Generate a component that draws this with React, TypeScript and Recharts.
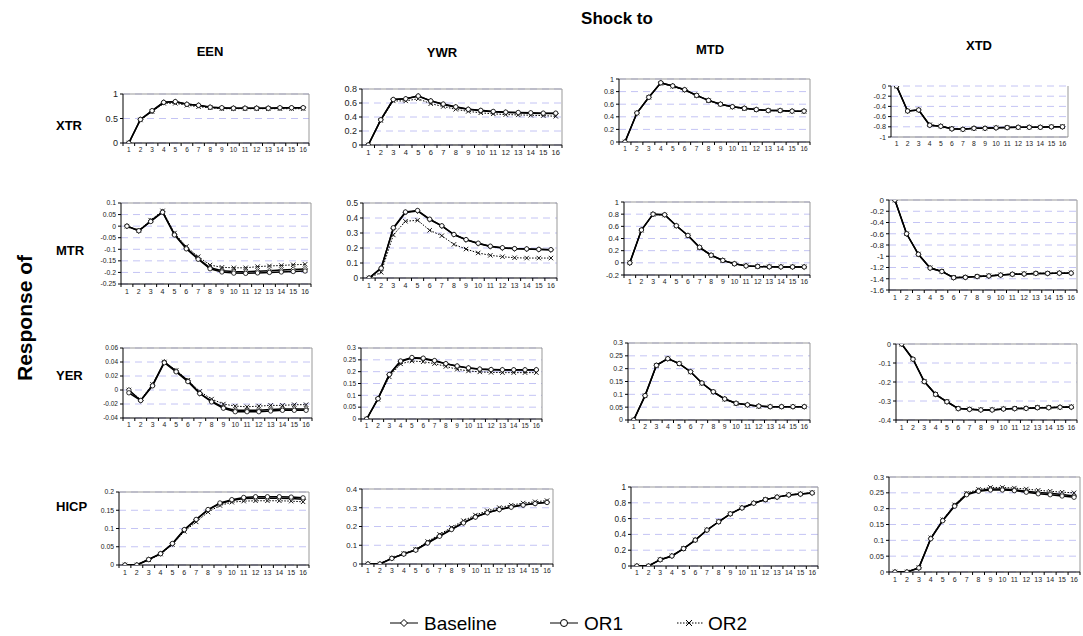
import React from 'react';
import { LineChart, Line, XAxis, YAxis, CartesianGrid, ReferenceLine } from 'recharts';

const FONT = '"Liberation Sans", Arial, Helvetica, sans-serif';

const periods = [1, 2, 3, 4, 5, 6, 7, 8, 9, 10, 11, 12, 13, 14, 15, 16];
const periodEdges = [0.5, 1.5, 2.5, 3.5, 4.5, 5.5, 6.5, 7.5, 8.5, 9.5, 10.5, 11.5, 12.5, 13.5, 14.5, 15.5, 16.5];

const rowLabels = ['XTR', 'MTR', 'YER', 'HICP'];
const colLabels = ['EEN', 'YWR', 'MTD', 'XTD'];
const seriesNames = ['Baseline', 'OR1', 'OR2'];

// ---- Response of XTR ----
const xtrEenBase = [0, 0.48, 0.65, 0.83, 0.84, 0.79, 0.77, 0.73, 0.715, 0.71, 0.71, 0.71, 0.71, 0.715, 0.72, 0.72];
const xtrEenOr1 = [0, 0.48, 0.66, 0.83, 0.845, 0.79, 0.77, 0.73, 0.72, 0.71, 0.71, 0.71, 0.71, 0.72, 0.72, 0.72];
const xtrEenOr2 = [0, 0.47, 0.64, 0.81, 0.81, 0.77, 0.74, 0.72, 0.7, 0.7, 0.7, 0.7, 0.7, 0.7, 0.7, 0.7];
const xtrEenTicks = [0, 0.5, 1];

const xtrYwrBase = [0, 0.36, 0.65, 0.66, 0.7, 0.63, 0.58, 0.54, 0.51, 0.49, 0.475, 0.465, 0.46, 0.455, 0.45, 0.45];
const xtrYwrOr1 = [0, 0.36, 0.65, 0.66, 0.7, 0.63, 0.585, 0.545, 0.51, 0.495, 0.48, 0.47, 0.465, 0.46, 0.455, 0.455];
const xtrYwrOr2 = [0, 0.35, 0.63, 0.63, 0.66, 0.59, 0.55, 0.51, 0.48, 0.46, 0.445, 0.435, 0.43, 0.425, 0.42, 0.41];
const xtrYwrTicks = [0, 0.2, 0.4, 0.6, 0.8];

const xtrMtdBase = [0, 0.46, 0.71, 0.94, 0.89, 0.83, 0.74, 0.66, 0.6, 0.56, 0.535, 0.515, 0.5, 0.5, 0.49, 0.49];
const xtrMtdOr1 = [0, 0.46, 0.71, 0.94, 0.89, 0.83, 0.74, 0.66, 0.6, 0.56, 0.535, 0.515, 0.5, 0.5, 0.49, 0.49];
const xtrMtdOr2 = [0, 0.46, 0.71, 0.93, 0.885, 0.825, 0.735, 0.655, 0.6, 0.555, 0.53, 0.51, 0.5, 0.495, 0.49, 0.485];
const xtrMtdTicks = [0, 0.2, 0.4, 0.6, 0.8, 1];

const xtrXtdBase = [0, -0.49, -0.47, -0.77, -0.79, -0.84, -0.85, -0.83, -0.83, -0.82, -0.815, -0.81, -0.81, -0.81, -0.8, -0.8];
const xtrXtdOr1 = [0, -0.49, -0.47, -0.77, -0.79, -0.84, -0.85, -0.83, -0.83, -0.82, -0.815, -0.81, -0.81, -0.81, -0.8, -0.8];
const xtrXtdOr2 = [0, -0.49, -0.47, -0.76, -0.785, -0.835, -0.845, -0.83, -0.825, -0.82, -0.81, -0.81, -0.805, -0.805, -0.8, -0.795];
const xtrXtdTicks = [-1, -0.8, -0.6, -0.4, -0.2, 0];

// ---- Response of MTR ----
const mtrEenBase = [0, -0.02, 0.022, 0.062, -0.035, -0.095, -0.14, -0.18, -0.193, -0.196, -0.197, -0.195, -0.193, -0.19, -0.187, -0.185];
const mtrEenOr1 = [0, -0.02, 0.02, 0.06, -0.038, -0.098, -0.143, -0.184, -0.198, -0.203, -0.204, -0.202, -0.2, -0.198, -0.196, -0.194];
const mtrEenOr2 = [0, -0.018, 0.026, 0.066, -0.03, -0.088, -0.132, -0.168, -0.178, -0.18, -0.18, -0.175, -0.172, -0.17, -0.167, -0.165];
const mtrEenTicks = [-0.25, -0.2, -0.15, -0.1, -0.05, 0, 0.05, 0.1];

const mtrYwrBase = [0, 0.067, 0.33, 0.437, 0.447, 0.39, 0.347, 0.29, 0.255, 0.23, 0.21, 0.2, 0.195, 0.193, 0.19, 0.188];
const mtrYwrOr1 = [0, 0.065, 0.335, 0.44, 0.45, 0.392, 0.348, 0.29, 0.256, 0.232, 0.212, 0.202, 0.196, 0.194, 0.191, 0.189];
const mtrYwrOr2 = [0, 0.038, 0.287, 0.378, 0.385, 0.318, 0.282, 0.224, 0.193, 0.167, 0.151, 0.142, 0.135, 0.133, 0.133, 0.133];
const mtrYwrTicks = [0, 0.1, 0.2, 0.3, 0.4, 0.5];

const mtrMtdBase = [0, 0.54, 0.8, 0.79, 0.61, 0.45, 0.255, 0.125, 0.04, -0.015, -0.05, -0.06, -0.065, -0.067, -0.067, -0.067];
const mtrMtdOr1 = [0, 0.54, 0.8, 0.79, 0.61, 0.45, 0.255, 0.125, 0.04, -0.015, -0.05, -0.06, -0.065, -0.067, -0.067, -0.067];
const mtrMtdOr2 = [0, 0.535, 0.795, 0.785, 0.605, 0.445, 0.25, 0.12, 0.038, -0.017, -0.05, -0.06, -0.065, -0.066, -0.066, -0.066];
const mtrMtdTicks = [-0.2, 0, 0.2, 0.4, 0.6, 0.8, 1];

const mtrXtdBase = [0, -0.6, -0.965, -1.21, -1.27, -1.38, -1.375, -1.36, -1.35, -1.335, -1.32, -1.315, -1.305, -1.305, -1.3, -1.3];
const mtrXtdOr1 = [0, -0.6, -0.965, -1.21, -1.27, -1.38, -1.375, -1.36, -1.35, -1.335, -1.32, -1.315, -1.305, -1.305, -1.3, -1.3];
const mtrXtdOr2 = [0, -0.6, -0.96, -1.205, -1.265, -1.375, -1.37, -1.355, -1.345, -1.33, -1.318, -1.31, -1.302, -1.3, -1.297, -1.295];
const mtrXtdTicks = [-1.6, -1.4, -1.2, -1, -0.8, -0.6, -0.4, -0.2, 0];

// ---- Response of YER ----
const yerEenBase = [0, -0.015, 0.007, 0.04, 0.027, 0.013, -0.005, -0.016, -0.025, -0.029, -0.029, -0.029, -0.028, -0.027, -0.027, -0.027];
const yerEenOr1 = [-0.004, -0.015, 0.006, 0.039, 0.026, 0.012, -0.005, -0.017, -0.026, -0.031, -0.031, -0.031, -0.03, -0.029, -0.029, -0.029];
const yerEenOr2 = [0, -0.014, 0.008, 0.04, 0.028, 0.014, -0.002, -0.013, -0.02, -0.023, -0.024, -0.023, -0.022, -0.022, -0.021, -0.021];
const yerEenTicks = [-0.04, -0.02, 0, 0.02, 0.04, 0.06];

const yerYwrBase = [0, 0.085, 0.187, 0.243, 0.258, 0.255, 0.245, 0.233, 0.223, 0.215, 0.21, 0.208, 0.207, 0.207, 0.207, 0.207];
const yerYwrOr1 = [0, 0.086, 0.188, 0.245, 0.26, 0.257, 0.247, 0.234, 0.224, 0.216, 0.211, 0.209, 0.208, 0.208, 0.208, 0.208];
const yerYwrOr2 = [0, 0.083, 0.178, 0.233, 0.245, 0.242, 0.234, 0.222, 0.21, 0.203, 0.199, 0.197, 0.196, 0.196, 0.196, 0.196];
const yerYwrTicks = [0, 0.05, 0.1, 0.15, 0.2, 0.25, 0.3];

const yerMtdBase = [0, 0.095, 0.213, 0.239, 0.22, 0.188, 0.144, 0.11, 0.082, 0.065, 0.059, 0.054, 0.052, 0.052, 0.052, 0.052];
const yerMtdOr1 = [0, 0.095, 0.213, 0.239, 0.22, 0.188, 0.144, 0.11, 0.082, 0.065, 0.059, 0.054, 0.052, 0.052, 0.052, 0.052];
const yerMtdOr2 = [0, 0.094, 0.212, 0.238, 0.219, 0.187, 0.143, 0.109, 0.081, 0.064, 0.058, 0.053, 0.051, 0.051, 0.051, 0.051];
const yerMtdTicks = [0, 0.05, 0.1, 0.15, 0.2, 0.25, 0.3];

const yerXtdBase = [0, -0.08, -0.198, -0.265, -0.304, -0.34, -0.344, -0.347, -0.347, -0.342, -0.34, -0.339, -0.335, -0.335, -0.333, -0.332];
const yerXtdOr1 = [0, -0.08, -0.198, -0.265, -0.304, -0.34, -0.344, -0.347, -0.347, -0.342, -0.34, -0.339, -0.335, -0.335, -0.333, -0.332];
const yerXtdOr2 = [0, -0.08, -0.197, -0.264, -0.302, -0.338, -0.342, -0.345, -0.345, -0.341, -0.338, -0.337, -0.334, -0.333, -0.332, -0.33];
const yerXtdTicks = [-0.4, -0.3, -0.2, -0.1, 0];

// ---- Response of HICP ----
const hicpEenBase = [0, 0, 0.015, 0.031, 0.058, 0.096, 0.124, 0.151, 0.168, 0.177, 0.182, 0.183, 0.183, 0.183, 0.182, 0.18];
const hicpEenOr1 = [0, 0, 0.015, 0.031, 0.059, 0.097, 0.125, 0.152, 0.17, 0.179, 0.185, 0.187, 0.187, 0.187, 0.186, 0.184];
const hicpEenOr2 = [0, 0, 0.014, 0.03, 0.056, 0.092, 0.118, 0.145, 0.163, 0.172, 0.175, 0.176, 0.176, 0.176, 0.175, 0.173];
const hicpEenTicks = [0, 0.05, 0.1, 0.15, 0.2];

const hicpYwrBase = [0, 0, 0.03, 0.054, 0.075, 0.114, 0.15, 0.186, 0.221, 0.252, 0.275, 0.291, 0.305, 0.316, 0.323, 0.33];
const hicpYwrOr1 = [0, 0, 0.03, 0.053, 0.074, 0.112, 0.148, 0.184, 0.219, 0.25, 0.273, 0.29, 0.303, 0.314, 0.322, 0.328];
const hicpYwrOr2 = [0, 0, 0.032, 0.056, 0.078, 0.12, 0.158, 0.195, 0.231, 0.261, 0.284, 0.301, 0.314, 0.325, 0.332, 0.338];
const hicpYwrTicks = [0, 0.1, 0.2, 0.3, 0.4];

const hicpMtdBase = [0, 0, 0.08, 0.127, 0.22, 0.328, 0.455, 0.56, 0.66, 0.735, 0.795, 0.84, 0.872, 0.9, 0.91, 0.925];
const hicpMtdOr1 = [0, 0, 0.08, 0.127, 0.22, 0.328, 0.455, 0.56, 0.66, 0.735, 0.795, 0.84, 0.872, 0.9, 0.91, 0.925];
const hicpMtdOr2 = [0, 0, 0.08, 0.128, 0.222, 0.33, 0.457, 0.562, 0.662, 0.737, 0.797, 0.842, 0.874, 0.902, 0.913, 0.928];
const hicpMtdTicks = [0, 0.2, 0.4, 0.6, 0.8, 1];

const hicpXtdBase = [0, 0, 0.013, 0.106, 0.163, 0.21, 0.246, 0.257, 0.262, 0.262, 0.26, 0.255, 0.251, 0.249, 0.245, 0.24];
const hicpXtdOr1 = [0, 0, 0.013, 0.105, 0.162, 0.208, 0.244, 0.255, 0.259, 0.259, 0.257, 0.252, 0.247, 0.244, 0.24, 0.236];
const hicpXtdOr2 = [0, 0, 0.014, 0.108, 0.165, 0.212, 0.249, 0.261, 0.267, 0.267, 0.265, 0.262, 0.258, 0.255, 0.252, 0.25];
const hicpXtdTicks = [0, 0.05, 0.1, 0.15, 0.2, 0.25, 0.3];

type PanelCfg = {
  L: number; T: number; R: number; B: number;
  base: number[]; or1: number[]; or2: number[];
  ticks: number[]; yFont: number; xFont: number; topAxis?: boolean;
};

const panels: PanelCfg[] = [
  { L: 123, T: 94, R: 309, B: 143, base: xtrEenBase, or1: xtrEenOr1, or2: xtrEenOr2, ticks: xtrEenTicks, yFont: 9, xFont: 6.5 },
  { L: 362, T: 89, R: 562, B: 145, base: xtrYwrBase, or1: xtrYwrOr1, or2: xtrYwrOr2, ticks: xtrYwrTicks, yFont: 9, xFont: 7.5 },
  { L: 619, T: 79, R: 810, B: 142, base: xtrMtdBase, or1: xtrMtdOr1, or2: xtrMtdOr2, ticks: xtrMtdTicks, yFont: 7.2, xFont: 6.5 },
  { L: 891, T: 86, R: 1068, B: 137, base: xtrXtdBase, or1: xtrXtdOr1, or2: xtrXtdOr2, ticks: xtrXtdTicks, yFont: 7.2, xFont: 6.8, topAxis: true },

  { L: 121, T: 203, R: 311, B: 284, base: mtrEenBase, or1: mtrEenOr1, or2: mtrEenOr2, ticks: mtrEenTicks, yFont: 6.8, xFont: 7 },
  { L: 363, T: 203, R: 557, B: 278, base: mtrYwrBase, or1: mtrYwrOr1, or2: mtrYwrOr2, ticks: mtrYwrTicks, yFont: 8.2, xFont: 7 },
  { L: 624, T: 202, R: 810, B: 275, base: mtrMtdBase, or1: mtrMtdOr1, or2: mtrMtdOr2, ticks: mtrMtdTicks, yFont: 7.5, xFont: 6.8 },
  { L: 889, T: 200, R: 1077, B: 290, base: mtrXtdBase, or1: mtrXtdOr1, or2: mtrXtdOr2, ticks: mtrXtdTicks, yFont: 8, xFont: 7 },

  { L: 123, T: 348, R: 312, B: 418, base: yerEenBase, or1: yerEenOr1, or2: yerEenOr2, ticks: yerEenTicks, yFont: 6.5, xFont: 6.8 },
  { L: 361, T: 348, R: 542, B: 419, base: yerYwrBase, or1: yerYwrOr1, or2: yerYwrOr2, ticks: yerYwrTicks, yFont: 6.5, xFont: 6.5 },
  { L: 628, T: 343, R: 810, B: 420, base: yerMtdBase, or1: yerMtdOr1, or2: yerMtdOr2, ticks: yerMtdTicks, yFont: 7, xFont: 6.8 },
  { L: 896, T: 344, R: 1077, B: 420, base: yerXtdBase, or1: yerXtdOr1, or2: yerXtdOr2, ticks: yerXtdTicks, yFont: 7.2, xFont: 7 },

  { L: 119, T: 492, R: 309, B: 565, base: hicpEenBase, or1: hicpEenOr1, or2: hicpEenOr2, ticks: hicpEenTicks, yFont: 6.8, xFont: 7 },
  { L: 362, T: 489, R: 553, B: 564, base: hicpYwrBase, or1: hicpYwrOr1, or2: hicpYwrOr2, ticks: hicpYwrTicks, yFont: 7.8, xFont: 6.8 },
  { L: 631, T: 487, R: 818, B: 566, base: hicpMtdBase, or1: hicpMtdOr1, or2: hicpMtdOr2, ticks: hicpMtdTicks, yFont: 8.2, xFont: 6.8 },
  { L: 889, T: 477, R: 1080, B: 572, base: hicpXtdBase, or1: hicpXtdOr1, or2: hicpXtdOr2, ticks: hicpXtdTicks, yFont: 7.4, xFont: 7 },
];

const ML = 2, MT = 4, MR = 4, MB = 2, YW = 40, XH = 16;

const DiamondDot = (props: any) => {
  const { cx, cy, index } = props;
  if (cx == null || cy == null) return <g key={`d${index}`} />;
  const s = 2.6;
  return <path key={`d${index}`} d={`M${cx},${cy - s}L${cx + s},${cy}L${cx},${cy + s}L${cx - s},${cy}Z`} fill="#fff" stroke="#000" strokeWidth={0.8} />;
};
const CircleDot = (props: any) => {
  const { cx, cy, index } = props;
  if (cx == null || cy == null) return <g key={`c${index}`} />;
  return <circle key={`c${index}`} cx={cx} cy={cy} r={2.2} fill="#fff" stroke="#000" strokeWidth={0.8} />;
};
const CrossDot = (props: any) => {
  const { cx, cy, index } = props;
  if (cx == null || cy == null) return <g key={`x${index}`} />;
  const s = 2.2;
  return (
    <g key={`x${index}`} stroke="#000" strokeWidth={0.9}>
      <line x1={cx - s} y1={cy - s} x2={cx + s} y2={cy + s} />
      <line x1={cx - s} y1={cy + s} x2={cx + s} y2={cy - s} />
    </g>
  );
};

function Panel({ cfg, id }: { cfg: PanelCfg; id: number }) {
  const { L, T, R, B, base, or1, or2, ticks, yFont, xFont, topAxis } = cfg;
  const plotW = R - L;
  const plotH = B - T;
  const width = plotW + ML + YW + MR;
  const height = plotH + MT + XH + MB;
  const half = plotW / 32;
  const data = periods.map((p, i) => ({ p, base: base[i], or1: or1[i], or2: or2[i] }));
  const yMin = ticks[0];
  const yMax = ticks[ticks.length - 1];

  const XTick = (props: any) => {
    const { x, y, payload, index } = props;
    const v = payload.value;
    const idx = Math.round(v - 0.5);
    if (idx >= periods.length) return <g key={`t${index}`} />;
    return (
      <text key={`t${index}`} x={x + half} y={y} dy={xFont * 0.8} textAnchor="middle" fontSize={xFont} fill="#222" fontFamily={FONT}>
        {periods[idx]}
      </text>
    );
  };

  return (
    <div style={{ position: 'absolute', left: L - ML - YW, top: T - MT }}>
      <LineChart width={width} height={height} data={data} margin={{ top: MT, right: MR, left: ML, bottom: MB }}>
        <CartesianGrid xAxisId="lab" yAxisId="y" vertical={false} stroke="#c4c4f4" strokeDasharray="7 5" />
        <XAxis
          xAxisId="lab"
          type="number"
          dataKey="p"
          domain={[0.5, 16.5]}
          allowDataOverflow
          ticks={periodEdges}
          interval={0}
          height={XH}
          tick={XTick}
          tickSize={3}
          tickMargin={1}
          tickLine={topAxis ? false : { stroke: '#000' }}
          axisLine={{ stroke: topAxis ? '#888' : '#000' }}
        />
        {topAxis && (
          <XAxis
            xAxisId="top"
            orientation="top"
            mirror
            type="number"
            domain={[0.5, 16.5]}
            allowDataOverflow
            ticks={periodEdges}
            interval={0}
            height={0}
            tick={false}
            tickSize={3}
            tickLine={{ stroke: '#000' }}
            axisLine={{ stroke: '#000' }}
          />
        )}
        <YAxis
          yAxisId="y"
          type="number"
          width={YW}
          domain={[yMin, yMax]}
          allowDataOverflow
          ticks={ticks}
          interval={0}
          tickSize={3}
          tickMargin={2}
          tick={{ fontSize: yFont, fill: '#222', fontFamily: FONT }}
          tickLine={{ stroke: '#000' }}
          axisLine={{ stroke: '#000' }}
          tickFormatter={(v: number) => String(v)}
        />
        {!topAxis && <ReferenceLine xAxisId="lab" yAxisId="y" y={yMax} stroke="#999" />}
        <ReferenceLine xAxisId="lab" yAxisId="y" x={16.5} stroke="#999" />
        <Line xAxisId="lab" yAxisId="y" type="linear" dataKey="or2" name={seriesNames[2]} stroke="#000" strokeWidth={1} strokeDasharray="1.5 1.5" dot={CrossDot} activeDot={false} isAnimationActive={false} />
        <Line xAxisId="lab" yAxisId="y" type="linear" dataKey="base" name={seriesNames[0]} stroke="#000" strokeWidth={1.5} dot={DiamondDot} activeDot={false} isAnimationActive={false} />
        <Line xAxisId="lab" yAxisId="y" type="linear" dataKey="or1" name={seriesNames[1]} stroke="#000" strokeWidth={1.5} dot={CircleDot} activeDot={false} isAnimationActive={false} />
      </LineChart>
    </div>
  );
}

const colTitlePos = [210, 442, 710, 979];
const colTitleY = [56, 57, 54, 50];
const rowTitlePos = [125, 250, 375, 506];

export default function App() {
  return (
    <div style={{ position: 'absolute', left: 0, top: 0, width: 1083, height: 636, background: '#fff', fontFamily: FONT, overflow: 'hidden' }}>
      <svg width={1083} height={636} style={{ position: 'absolute', left: 0, top: 0 }} fontFamily={FONT}>
        <text x={617} y={24} textAnchor="middle" fontSize={17} fontWeight="bold" fill="#000">Shock to</text>
        {colLabels.map((c, i) => (
          <text key={c} x={colTitlePos[i]} y={colTitleY[i]} textAnchor="middle" fontSize={13} fontWeight="bold" fill="#000">{c}</text>
        ))}
        {rowLabels.map((r, i) => (
          <text key={r} x={56} y={rowTitlePos[i] + 5} textAnchor="start" fontSize={13} fontWeight="bold" fill="#000">{r}</text>
        ))}
        <text x={0} y={0} transform="translate(32,318) rotate(-90)" textAnchor="middle" fontSize={21} fontWeight="bold" fill="#000">Response of</text>
        {/* legend */}
        <g stroke="#000" strokeWidth={1}>
          <line x1={390} y1={623} x2={418} y2={623} />
          <path d="M404,619.5L407.5,623L404,626.5L400.5,623Z" fill="#fff" />
          <line x1={550} y1={623} x2={578} y2={623} />
          <circle cx={564} cy={623} r={3.5} fill="#fff" />
          <line x1={677} y1={623} x2={703} y2={623} strokeDasharray="1.5 1.5" />
          <line x1={686} y1={620} x2={692} y2={626} />
          <line x1={686} y1={626} x2={692} y2={620} />
        </g>
        <text x={424} y={630} fontSize={19} fill="#000">{seriesNames[0]}</text>
        <text x={584} y={630} fontSize={19} fill="#000">{seriesNames[1]}</text>
        <text x={708} y={630} fontSize={19} fill="#000">{seriesNames[2]}</text>
      </svg>
      {panels.map((p, i) => (
        <Panel key={i} cfg={p} id={i} />
      ))}
    </div>
  );
}
